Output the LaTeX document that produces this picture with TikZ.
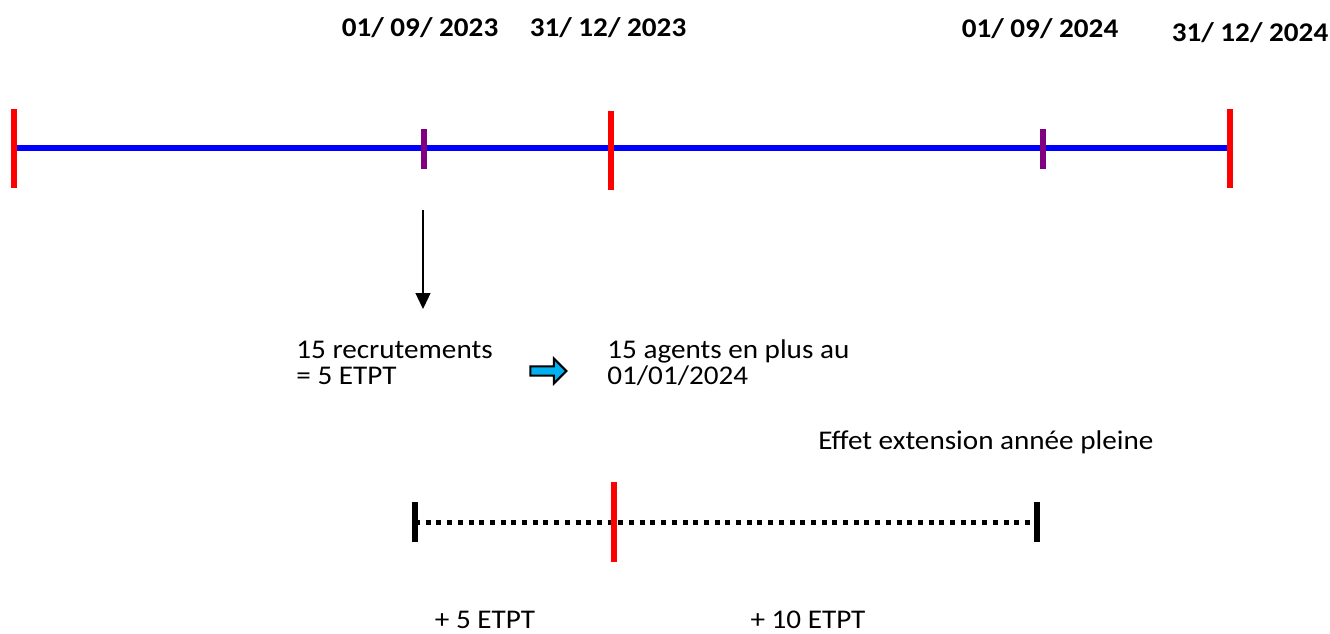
\documentclass[tikz,border=0pt]{standalone}
\usepackage{fontspec}
\setmainfont{Carlito}[FakeStretch=1.08]
\usetikzlibrary{arrows.meta,shapes.arrows}
\definecolor{flecheblue}{RGB}{0,176,240}
\definecolor{violetmark}{RGB}{128,0,128}

\begin{document}
\begin{tikzpicture}[x=0.5pt,y=-0.5pt,>=Stealth,
    font=\fontsize{13.5}{13}\selectfont,
    date/.style={font=\fontsize{13.5}{13}\selectfont\bfseries,anchor=base,inner sep=0pt},
    plain/.style={anchor=base,inner sep=0pt},
    lbl/.style={align=left,anchor=base west,inner sep=0pt},
    redtick/.style={red,line width=3pt},
    midtick/.style={violetmark,line width=3pt},
    endtick/.style={black,line width=3pt}]
                \useasboundingbox (0,0) rectangle (1330,633);

                % Timeline
                \coordinate (s) at (14,148);
                \coordinate (e) at (1230,148);
                \draw[blue,line width=3pt] (s) -- (e);
                \draw[redtick] (14,109) -- (14,188);
                \draw[redtick] (611,111) -- (611,190);
                \draw[redtick] (1230,109) -- (1230,188);
                \draw[midtick] (424,129) -- (424,169);
                \draw[midtick] (1043,129) -- (1043,169);

                % Dates
                \node[date] (d1) at (420,36) {01/ 09/ 2023};
                \node[date] (d2) at (608,36) {31/ 12/ 2023};
                \node[date] (d3) at (1040,37) {01/ 09/ 2024};
                \node[date] (d4) at (1250,41) {31/ 12/ 2024};

                % Recruitment
                \coordinate (a1) at (423,210);
                \coordinate (a2) at (423,309);
                \draw[-{Triangle[width=7.5pt,length=8pt]},line width=0.65pt] (a1) -- (a2);
                \node[lbl] (rec) at (296,384) {15 recrutements\\= 5 ETPT};
                \node[single arrow,draw=black,line width=1pt,fill=flecheblue,
                      minimum width=12.5pt,minimum height=18pt,
                      single arrow head extend=2.5pt,inner sep=1pt] (fl) at (546,371) {};
                \node[lbl] (ag) at (607,384) {15 agents en plus au\\01/01/2024};
                \node[lbl] (eff) at (818,449) {Effet extension année pleine};

                % Full-year effect
                \coordinate (b1) at (415,522);
                \coordinate (b2) at (1037,522);
                \draw[line width=2.5pt,dash pattern=on 2.5pt off 2.85pt] (b1) -- (b2);
                \draw[endtick] (415,502) -- (415,542);
                \draw[endtick] (1037,502) -- (1037,542);
                \draw[redtick] (614,482) -- (614,562);
                \node[plain] (p5) at (485,628) {+ 5 ETPT};
                \node[plain] (p10) at (808,628) {+ 10 ETPT};
            \end{tikzpicture}
\end{document}
